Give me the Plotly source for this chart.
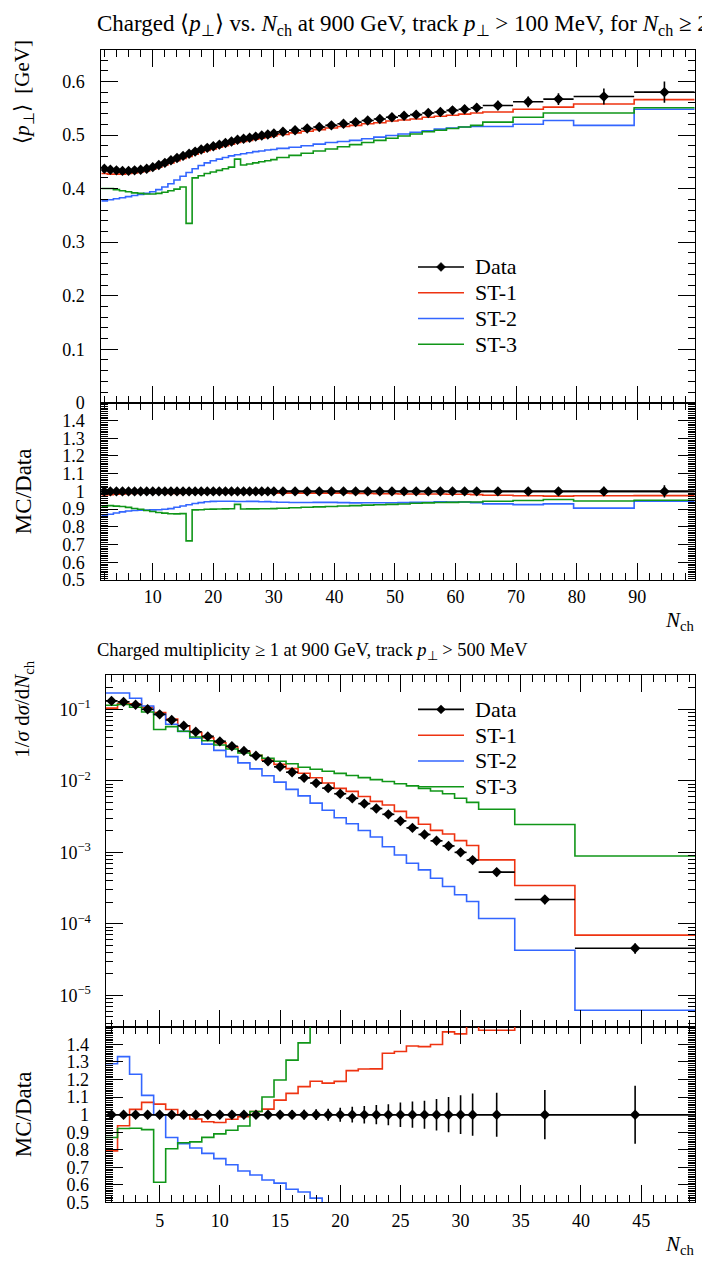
import plotly.graph_objects as go

W, H = 710, 1264
FONT = "Liberation Serif"

# ---------------- top panel: mean pT vs Nch ----------------
top_edges = [1.5, 2.5, 3.5, 4.5, 5.5, 6.5, 7.5, 8.5, 9.5, 10.5, 11.5, 12.5, 13.5, 14.5, 15.5,
             16.5, 17.5, 18.5, 19.5, 20.5, 21.5, 22.5, 23.5, 24.5, 25.5, 26.5, 27.5, 28.5, 29.5, 30.5,
             32.5, 34.5, 36.5, 38.5, 40.5, 42.5, 44.5, 46.5, 48.5, 50.5, 52.5, 54.5, 56.5, 58.5,
             60.5, 62.5, 64.5, 69.5, 74.5, 79.5, 89.5, 99.5]
top_data = [0.437, 0.435, 0.434, 0.433, 0.433, 0.434, 0.435, 0.437, 0.440, 0.444, 0.448, 0.453,
            0.457, 0.461, 0.465, 0.469, 0.473, 0.476, 0.479, 0.482, 0.485, 0.488, 0.491, 0.493,
            0.495, 0.497, 0.499, 0.501, 0.503,
            0.506, 0.509, 0.512, 0.515, 0.518, 0.521, 0.524, 0.527, 0.530, 0.533, 0.536, 0.538,
            0.541, 0.543, 0.546, 0.548, 0.551,
            0.555, 0.562, 0.567, 0.572, 0.580]
top_err = [0.004] * 29 + [0.005, 0.005, 0.005, 0.005, 0.005, 0.005, 0.006, 0.006, 0.006, 0.006,
                          0.006, 0.007, 0.007, 0.007, 0.007, 0.008, 0.008,
                          0.009, 0.010, 0.011, 0.015, 0.020]
top_st1 = [0.428, 0.427, 0.427, 0.427, 0.428, 0.429, 0.431, 0.433, 0.436, 0.440, 0.444, 0.448,
           0.452, 0.456, 0.460, 0.464, 0.468, 0.471, 0.474, 0.477, 0.480, 0.483, 0.486, 0.488,
           0.490, 0.492, 0.494, 0.496, 0.498,
           0.501, 0.504, 0.507, 0.510, 0.513, 0.516, 0.518, 0.521, 0.523, 0.526, 0.528, 0.530,
           0.533, 0.535, 0.537, 0.539, 0.541,
           0.543, 0.548, 0.552, 0.558, 0.566]
top_st2 = [0.377, 0.379, 0.381, 0.383, 0.385, 0.387, 0.389, 0.391, 0.394, 0.398, 0.403, 0.409,
           0.416, 0.423, 0.430, 0.437, 0.443, 0.448, 0.452, 0.455, 0.458, 0.461, 0.463, 0.465,
           0.467, 0.469, 0.470, 0.472, 0.473,
           0.475, 0.477, 0.480, 0.483, 0.486, 0.488, 0.490, 0.493, 0.496, 0.499, 0.502, 0.505,
           0.508, 0.511, 0.513, 0.515, 0.516,
           0.516, 0.520, 0.527, 0.518, 0.548]
top_st3 = [0.400, 0.400, 0.398, 0.396, 0.394, 0.392, 0.391, 0.390, 0.390, 0.391, 0.393, 0.396,
           0.399, 0.403, 0.335, 0.420, 0.424, 0.428, 0.431, 0.434, 0.437, 0.440, 0.455, 0.444,
           0.446, 0.448, 0.450, 0.452, 0.454,
           0.458, 0.462, 0.466, 0.470, 0.474, 0.478, 0.482, 0.486, 0.490, 0.494, 0.498, 0.502,
           0.506, 0.509, 0.512, 0.515, 0.518,
           0.524, 0.533, 0.541, 0.541, 0.551]

# ---------------- bottom panel: multiplicity ----------------
bot_edges = [0.5, 1.5, 2.5, 3.5, 4.5, 5.5, 6.5, 7.5, 8.5, 9.5, 10.5, 11.5, 12.5, 13.5, 14.5, 15.5,
             16.5, 17.5, 18.5, 19.5, 20.5, 21.5, 22.5, 23.5, 24.5, 25.5, 26.5, 27.5, 28.5, 29.5,
             30.5, 31.5, 34.5, 39.5, 49.5]
bot_data = [0.131, 0.127, 0.116, 0.100, 0.085, 0.071, 0.0588, 0.0485, 0.0418, 0.0356, 0.0305,
            0.0262, 0.0224, 0.0188, 0.0157, 0.0132, 0.0110, 0.0093, 0.0079, 0.0066, 0.0057,
            0.0048, 0.0041, 0.0034, 0.00275, 0.0022, 0.00178, 0.00145, 0.00123, 0.0010,
            0.00078, 0.00053, 0.000219, 0.0000457]
bot_relerr = [0.01] * 10 + [0.012, 0.015, 0.017, 0.02, 0.022, 0.025, 0.028, 0.031, 0.034, 0.04,
                            0.045, 0.05, 0.055, 0.06, 0.07, 0.075, 0.08, 0.09, 0.10, 0.11,
                            0.12, 0.125, 0.14, 0.165]
bot_st1 = [0.104, 0.119, 0.1195, 0.107, 0.0901, 0.0731, 0.0588, 0.0473, 0.0401, 0.0340, 0.0297,
           0.0259, 0.0228, 0.0194, 0.0170, 0.0148, 0.01276, 0.01107, 0.00932, 0.00785, 0.00713,
           0.00605, 0.00517, 0.00459, 0.00374, 0.00306, 0.00247, 0.00203, 0.00181, 0.00146,
           0.00125, 0.000785, 0.000344, 0.0000697]
bot_st2 = [0.169, 0.169, 0.1427, 0.111, 0.085, 0.0618, 0.0491, 0.0393, 0.0326, 0.0267, 0.0218,
           0.0178, 0.0147, 0.0118, 0.00958, 0.00759, 0.00616, 0.00488, 0.00387, 0.00304, 0.00251,
           0.00202, 0.00164, 0.0012, 0.00092, 0.000703, 0.000569, 0.000435, 0.000333, 0.000256,
           0.000206, 0.000119, 0.0000427, 0.0000062]
bot_st3 = [0.114, 0.117, 0.107, 0.0915, 0.0523, 0.0572, 0.0494, 0.0410, 0.0364, 0.0317, 0.0278,
           0.0245, 0.0228, 0.0207, 0.0188, 0.0173, 0.0155, 0.0145, 0.0136, 0.0127, 0.0119,
           0.0111, 0.0104, 0.0098, 0.0091, 0.0085, 0.0078, 0.0072, 0.0066, 0.0057, 0.0050,
           0.0040, 0.00245, 0.00089]

legend_names = ["Data", "ST-1", "ST-2", "ST-3"]
mc_names = ["ST-1", "ST-2", "ST-3"]
mc_colors = ["#EE3311", "#3366FF", "#109618"]


def centers(edges):
    return [(a + b) / 2 for a, b in zip(edges[:-1], edges[1:])]


def halfw(edges):
    return [(b - a) / 2 for a, b in zip(edges[:-1], edges[1:])]


def step_y(vals):
    return list(vals) + [vals[-1]]


fig = go.Figure()
MS = 8
LW = 1.6


def add_panel(edges, data, err, mcs, xa_main, ya_main, xa_rat, ya_rat):
    for name, col, vals in zip(mc_names, mc_colors, mcs):
        fig.add_trace(go.Scatter(x=edges, y=step_y(vals), mode="lines", name=name,
                                 line=dict(color=col, width=LW, shape="hv"),
                                 showlegend=False, xaxis=xa_main, yaxis=ya_main))
        ratio = [m / d for m, d in zip(vals, data)]
        fig.add_trace(go.Scatter(x=edges, y=step_y(ratio), mode="lines", name=name,
                                 line=dict(color=col, width=LW, shape="hv"),
                                 showlegend=False, xaxis=xa_rat, yaxis=ya_rat))
    fig.add_trace(go.Scatter(x=centers(edges), y=data, mode="markers", name="Data",
                             showlegend=False,
                             marker=dict(symbol="diamond", size=MS, color="black"),
                             error_x=dict(type="data", array=halfw(edges), width=0,
                                          thickness=LW, color="black"),
                             error_y=dict(type="data", array=err, width=0,
                                          thickness=LW, color="black"),
                             xaxis=xa_main, yaxis=ya_main))
    rel = [e / d for e, d in zip(err, data)]
    fig.add_trace(go.Scatter(x=centers(edges), y=[d / d for d in data], mode="markers",
                             name="Data", showlegend=False,
                             marker=dict(symbol="diamond", size=MS, color="black"),
                             error_x=dict(type="data", array=halfw(edges), width=0,
                                          thickness=LW, color="black"),
                             error_y=dict(type="data", array=rel, width=0,
                                          thickness=LW, color="black"),
                             xaxis=xa_rat, yaxis=ya_rat))


add_panel(top_edges, top_data, top_err, [top_st1, top_st2, top_st3], "x", "y", "x2", "y2")
bot_err = [r * d for r, d in zip(bot_relerr, bot_data)]
add_panel(bot_edges, bot_data, bot_err, [bot_st1, bot_st2, bot_st3], "x3", "y3", "x4", "y4")


def px_x(p):
    return p / W


def px_y(p):
    return 1 - p / H


tickfont = dict(family=FONT, size=18, color="black")
base = dict(showline=True, linecolor="black", linewidth=1, mirror="allticks", ticks="inside",
            tickcolor="black", tickwidth=1, showgrid=False, zeroline=False, tickfont=tickfont)


def minor(dtick=None, tickvals=None):
    d = dict(ticks="inside", ticklen=7, tickcolor="black", tickwidth=1, showgrid=False)
    if tickvals is not None:
        d.update(tickmode="array", tickvals=tickvals)
    else:
        d.update(dtick=dtick, tick0=0)
    return d


top_xd = [px_x(93.3), px_x(686.7)]
bot_xd = [px_x(97.5), px_x(687.3)]
rat_vals = [0.5, 0.6, 0.7, 0.8, 0.9, 1.0, 1.1, 1.2, 1.3, 1.4]
rat_text = ["0.5", "0.6", "0.7", "0.8", "0.9", "1", "1.1", "1.2", "1.3", "1.4"]
dec_vals = [1e-5, 1e-4, 1e-3, 1e-2, 1e-1]
dec_text = ["10<sup>−5</sup>", "10<sup>−4</sup>", "10<sup>−3</sup>", "10<sup>−2</sup>", "10<sup>−1</sup>"]
log_minor = [k * 10.0 ** e for e in range(-6, 0) for k in range(2, 10)]

fig.update_layout(
    width=W, height=H, margin=dict(l=0, r=0, t=0, b=0),
    paper_bgcolor="white", plot_bgcolor="white", showlegend=False,
    font=dict(family=FONT, size=18, color="black"),
    xaxis=dict(domain=top_xd, anchor="y", range=[1.5, 99.5], dtick=10, tick0=0, ticklen=17,
               minor=minor(2), showticklabels=False, **base),
    yaxis=dict(domain=[px_y(398), px_y(42.7)], anchor="x", range=[0, 0.658], dtick=0.1, tick0=0,
               ticklen=17, minor=minor(0.02), ticklabelstandoff=12, **base),
    xaxis2=dict(domain=top_xd, anchor="y2", range=[1.5, 99.5], dtick=10, tick0=0, ticklen=17,
                minor=minor(2), ticklabelstandoff=0, **base),
    yaxis2=dict(domain=[px_y(576.5), px_y(398)], anchor="x2", range=[0.5, 1.5],
                tickmode="array", tickvals=rat_vals, ticktext=rat_text, ticklen=17,
                minor=minor(0.01), ticklabelstandoff=12, **base),
    xaxis3=dict(domain=bot_xd, anchor="y3", range=[0.5, 49.5], dtick=5, tick0=0, ticklen=17,
                minor=minor(1), showticklabels=False, **base),
    yaxis3=dict(domain=[px_y(1027), px_y(672.3)], anchor="x3", type="log", range=[-5.44, -0.52],
                tickmode="array", tickvals=dec_vals, ticktext=dec_text, ticklen=17,
                minor=minor(tickvals=log_minor), ticklabelstandoff=10, **base),
    xaxis4=dict(domain=bot_xd, anchor="y4", range=[0.5, 49.5], dtick=5, tick0=0, ticklen=17,
                minor=minor(1), ticklabelstandoff=2, **base),
    yaxis4=dict(domain=[px_y(1204), px_y(1027)], anchor="x4", range=[0.5, 1.5],
                tickmode="array", tickvals=rat_vals, ticktext=rat_text, ticklen=17,
                minor=minor(0.01), ticklabelstandoff=12, **base),
)

# reference lines at 1 in ratio panels
shapes = []
for xr, yr in [("x2", "y2"), ("x4", "y4")]:
    shapes.append(dict(type="line", xref=xr + " domain", yref=yr, x0=0, x1=1, y0=1, y1=1,
                       line=dict(color="black", width=LW)))

annotations = []
leg_font = dict(family=FONT, size=22, color="black")
leg_colors = ["black"] + mc_colors


def add_legend(y_first, spacing):
    for i, (name, col) in enumerate(zip(legend_names, leg_colors)):
        yy = px_y(y_first + i * spacing)
        shapes.append(dict(type="line", xref="paper", yref="paper", x0=px_x(410), x1=px_x(456),
                           y0=yy, y1=yy, line=dict(color=col, width=LW)))
        if name == "Data":
            cx, dx, dy = px_x(433), 4.5 / W, 4.5 / H
            shapes.append(dict(type="path", xref="paper", yref="paper",
                               path=f"M {cx - dx},{yy} L {cx},{yy + dy} L {cx + dx},{yy} "
                                    f"L {cx},{yy - dy} Z",
                               fillcolor="black", line=dict(color="black", width=0.5)))
        annotations.append(dict(text=name, x=px_x(465), y=yy, xanchor="left", yanchor="middle",
                                font=leg_font))


add_legend(261, 26)
add_legend(707, 26)

title_top = dict(family=FONT, size=23, color="black")
title_bot = dict(family=FONT, size=18.5, color="black")
lab_font = dict(family=FONT, size=21, color="black")
rat_font = dict(family=FONT, size=23, color="black")
annotations += [
    dict(text="Charged ⟨<i>p</i><sub>⊥</sub>⟩ vs. <i>N</i><sub>ch</sub> at 900 GeV, track "
              "<i>p</i><sub>⊥</sub> > 100 MeV, for <i>N</i><sub>ch</sub> ≥ 2",
         x=px_x(87), y=px_y(17), xanchor="left", yanchor="middle", font=title_top),
    dict(text="Charged multiplicity ≥ 1 at 900 GeV, track <i>p</i><sub>⊥</sub> > 500 MeV",
         x=px_x(87), y=px_y(649), xanchor="left", yanchor="middle", font=title_bot),
    dict(text="⟨<i>p</i><sub>⊥</sub>⟩  [GeV]", textangle=-90, x=px_x(15), y=px_y(30),
         xanchor="center", yanchor="top", font=lab_font),
    dict(text="MC/Data", textangle=-90, x=px_x(15), y=px_y(487), xanchor="center",
         yanchor="middle", font=rat_font),
    dict(text="1/<i>σ</i> d<i>σ</i>/d<i>N</i><sub>ch</sub>", textangle=-90, x=px_x(15),
         y=px_y(655), xanchor="center", yanchor="top", font=lab_font),
    dict(text="MC/Data", textangle=-90, x=px_x(15), y=px_y(1115), xanchor="center",
         yanchor="middle", font=rat_font),
    dict(text="<i>N</i><sub>ch</sub>", x=px_x(689), y=px_y(618), xanchor="right",
         yanchor="middle", font=lab_font),
    dict(text="<i>N</i><sub>ch</sub>", x=px_x(689), y=px_y(1247), xanchor="right",
         yanchor="middle", font=lab_font),
]
for a in annotations:
    a.update(xref="paper", yref="paper", showarrow=False)
fig.update_layout(annotations=annotations, shapes=shapes)

fig.write_html("out.html")
